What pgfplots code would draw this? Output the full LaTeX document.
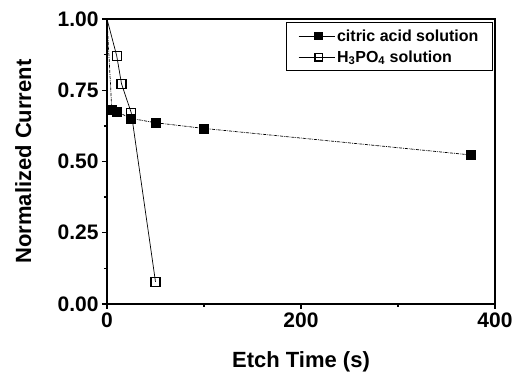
\documentclass[border=0pt]{standalone}
\usepackage{fontspec}
\setmainfont{Liberation Sans}
\usepackage{pgfplots}
\pgfplotsset{compat=1.18}
\begin{document}
\begin{tikzpicture}
\begin{axis}[
  scale only axis,
  width=388pt, height=285pt,
  xmin=0, xmax=400, ymin=0, ymax=1,
  xtick={0,200,400}, minor x tick num=1,
  ytick={0,0.25,0.5,0.75,1}, minor y tick num=1,
  yticklabel style={/pgf/number format/.cd, fixed, fixed zerofill, precision=2},
  /pgf/number format/assume math mode=true,
  tick align=outside,
  xtick pos=bottom, ytick pos=left,
  major tick length=5pt, minor tick length=3pt,
  tick style={line width=1.4pt, black},
  axis line style={line width=1.8pt},
  ticklabel style={font=\fontsize{21}{22}\selectfont\bfseries},
  xlabel={Etch Time (s)}, ylabel={Normalized Current},
  label style={font=\fontsize{22}{24}\selectfont\bfseries},
  xlabel style={at={(axis description cs:0.5,-0.155)}, anchor=north},
  ylabel style={at={(axis description cs:-0.186,0.5)}, anchor=south},
  legend style={at={(0.995,0.99)}, anchor=north east, draw=black, line width=1.2pt,
    font=\fontsize{16}{18}\selectfont\bfseries, row sep=4pt,
    inner xsep=12pt, inner ysep=5pt,
    cells={anchor=west}},
  legend image code/.code={%
    \draw[#1, mark=none, line width=0.8pt, solid] (0pt,0pt) -- (36pt,0pt);
    \draw[#1, mark size=3.8pt, line width=0.8pt] plot coordinates {(20pt,0pt)};},
]
\addplot[black, line width=0.7pt, densely dash dot, forget plot]
  coordinates {(0,1) (5,0.680)};
\addplot[black, line width=0.7pt, densely dash dot, mark=square*, mark size=4.5pt,
  mark options={solid}]
  coordinates {(5,0.680) (10,0.675) (25,0.651) (50,0.636) (100,0.616) (375,0.523)};
\addlegendentry{citric acid solution}
\addplot[black, line width=0.7pt, forget plot]
  coordinates {(0,1) (10,0.871)};
\addplot[black, line width=0.7pt, mark=square, mark size=4.5pt,
  mark options={solid, fill=white, line width=1.3pt}]
  coordinates {(10,0.871) (15,0.772) (25,0.671) (50,0.078)};
\addlegendentry{H\textsubscript{3}PO\textsubscript{4} solution}
\end{axis}
\path[use as bounding box] (current axis.south west) ++(-107pt,-66pt) rectangle ([shift={(21pt,19pt)}]current axis.north east);
\end{tikzpicture}
\end{document}
